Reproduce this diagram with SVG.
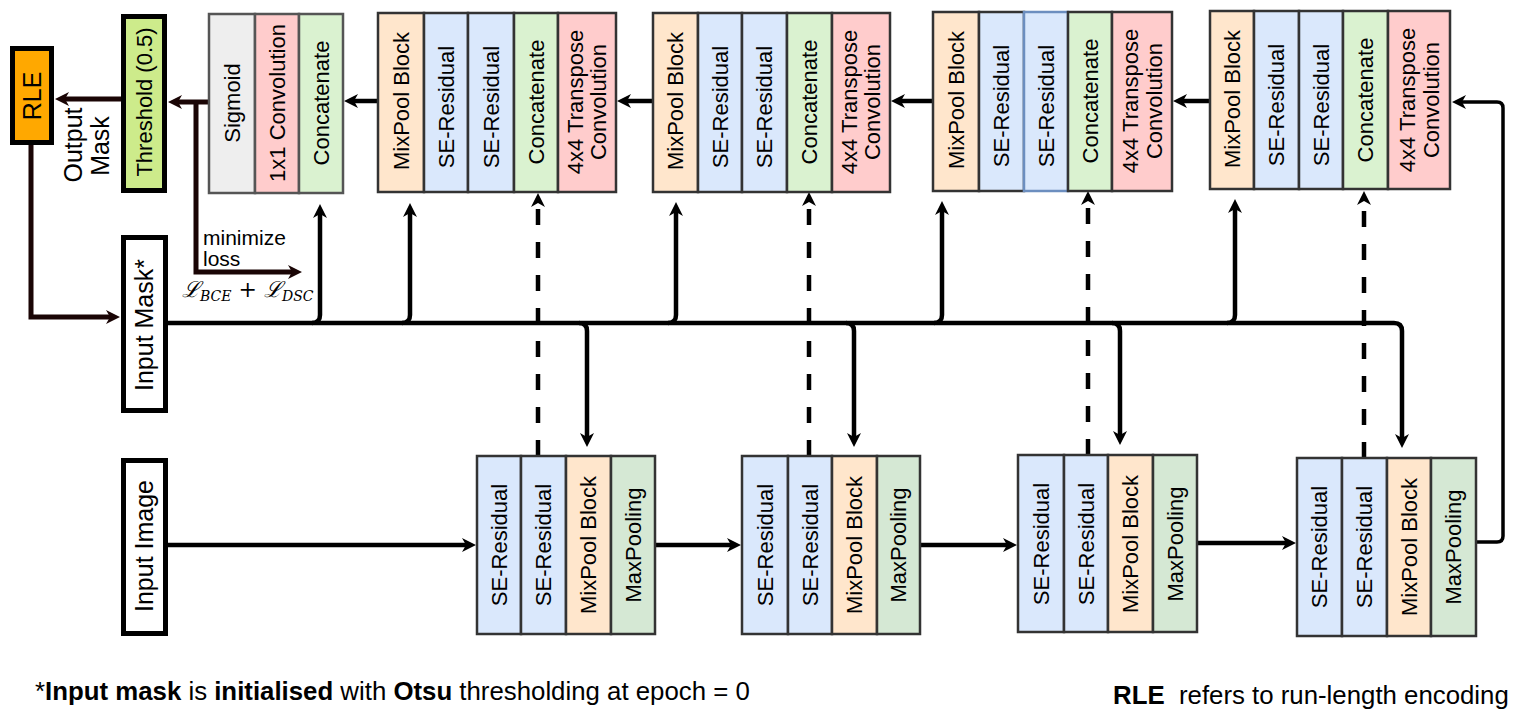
<svg xmlns="http://www.w3.org/2000/svg" width="1531" height="720" viewBox="0 0 1531 720">
<style>
.t{font-family:"Liberation Sans",Arial,sans-serif;font-size:22px;fill:#000;text-anchor:middle;dominant-baseline:central}
.tb{font-size:25px}
.c{stroke:#333;stroke-width:2.5}
.thick{stroke:#000;stroke-width:5}
.mix{fill:#FFE6CC}.se{fill:#DAE8FC}.cat{fill:#DAF2D0}.tr{fill:#FFCCCC}.mp{fill:#D5E8D4}.sg{fill:#EEEEEE}
.ln{fill:none;stroke:#000;stroke-width:4.5}
.br{fill:none;stroke:#1a0505;stroke-width:5}
.ds{fill:none;stroke:#000;stroke-width:4.5;stroke-dasharray:16 17}
.ft{font-family:"Liberation Sans",Arial,sans-serif;font-size:25.8px;fill:#000}
</style>
<defs>
<marker id="ah" viewBox="0 0 14 14" markerWidth="14" markerHeight="14" refX="4" refY="7" orient="auto" markerUnits="userSpaceOnUse"><path d="M0,0 L14,7 L0,14 L4,7 Z" fill="#000"/></marker>
<marker id="ahb" viewBox="0 0 14 14" markerWidth="14" markerHeight="14" refX="4" refY="7" orient="auto" markerUnits="userSpaceOnUse"><path d="M0,0 L14,7 L0,14 L4,7 Z" fill="#1a0505"/></marker>
</defs>

<g id="connectors">
<path class="br" d="M121,99 L65,99" marker-end="url(#ahb)"/>
<path class="br" d="M209,102 L178,102" marker-end="url(#ahb)"/>
<path class="br" d="M196,102 L196,272 L292,272" marker-end="url(#ahb)"/>
<path class="br" d="M31,145 L31,317 L110,317" marker-end="url(#ahb)"/>
<path class="ln" d="M167,323 L1394,323 Q1402,323 1402,331 L1402,438" marker-end="url(#ah)"/>
<path class="ln" d="M312,323 Q320,323 320,315 L320,214" marker-end="url(#ah)"/>
<path class="ln" d="M402,323 Q410,323 410,315 L410,213" marker-end="url(#ah)"/>
<path class="ln" d="M668,323 Q676,323 676,315 L676,212" marker-end="url(#ah)"/>
<path class="ln" d="M934,323 Q942,323 942,315 L942,211" marker-end="url(#ah)"/>
<path class="ln" d="M1227,323 Q1235,323 1235,315 L1235,209" marker-end="url(#ah)"/>
<path class="ln" d="M579,323 Q587,323 587,331 L587,437" marker-end="url(#ah)"/>
<path class="ln" d="M846,323 Q854,323 854,331 L854,437" marker-end="url(#ah)"/>
<path class="ln" d="M1112,323 Q1120,323 1120,331 L1120,435" marker-end="url(#ah)"/>
<path class="ds" d="M538,456 L538,203" marker-end="url(#ah)"/>
<path class="ds" d="M809,456 L809,202" marker-end="url(#ah)"/>
<path class="ds" d="M1088,455 L1088,201" marker-end="url(#ah)"/>
<path class="ds" d="M1364,458 L1364,201" marker-end="url(#ah)"/>
<path class="ln" d="M378,101 L354,101" marker-end="url(#ah)"/>
<path class="ln" d="M653,101 L627,101" marker-end="url(#ah)"/>
<path class="ln" d="M933,101 L901,101" marker-end="url(#ah)"/>
<path class="ln" d="M1210,101 L1183,101" marker-end="url(#ah)"/>
<path class="ln" d="M168,545 L466,545" marker-end="url(#ah)"/>
<path class="ln" d="M655,545 L731,545" marker-end="url(#ah)"/>
<path class="ln" d="M920,545 L1007,545" marker-end="url(#ah)"/>
<path class="ln" d="M1197,543 L1286,543" marker-end="url(#ah)"/>
<path class="ln" style="stroke-width:3.5" d="M1476,542 L1497,542 Q1503,542 1503,536 L1503,108 Q1503,102 1497,102 L1462,102" marker-end="url(#ah)"/>
</g>

<g id="rle">
<rect x="12.5" y="48.5" width="39" height="94" fill="#FFA800" class="thick"/>
<text class="t" style="font-size:25px" transform="translate(32,96) rotate(-90)">RLE</text>
</g>
<g id="output-mask-label">
<text class="t tb" transform="translate(73,145) rotate(-90)">Output</text>
<text class="t tb" transform="translate(100,146) rotate(-90)">Mask</text>
</g>
<g id="threshold">
<rect x="123.5" y="16.5" width="41" height="174" fill="#CDEB8B" class="thick"/>
<text class="t" transform="translate(144,102) rotate(-90)">Threshold (0.5)</text>
</g>
<g id="output-head">
<rect x="209" y="14" width="46" height="179" class="c sg" style="stroke:#555"/>
<rect x="255" y="14" width="44" height="179" class="c tr" style="stroke:#555"/>
<rect x="299" y="14" width="44" height="179" class="c cat" style="stroke:#555"/>
<text class="t" transform="translate(232,103) rotate(-90)">Sigmoid</text>
<text class="t" transform="translate(277,103) rotate(-90)">1x1 Convolution</text>
<text class="t" transform="translate(321,103) rotate(-90)">Concatenate</text>
</g>
<g id="loss-label">
<text class="ft" style="font-size:21px" x="203" y="245">minimize</text>
<text class="ft" style="font-size:21px" x="203" y="266">loss</text>
<text x="182" y="297" style="font-family:'DejaVu Serif',serif;font-size:22px;font-style:italic">ℒ<tspan style="font-size:14px" dy="4">BCE</tspan><tspan dy="-4" style="font-style:normal"> + </tspan>ℒ<tspan style="font-size:14px" dy="4">DSC</tspan></text>
</g>

<g id="decoder1">
<rect x="378" y="13" width="46" height="179" class="c mix"/>
<rect x="424" y="13" width="44" height="179" class="c se"/>
<rect x="468" y="13" width="46" height="179" class="c se"/>
<rect x="514" y="13" width="44" height="179" class="c cat"/>
<rect x="558" y="13" width="58" height="179" class="c tr"/>
<text class="t" transform="translate(401,101) rotate(-90)">MixPool Block</text>
<text class="t" transform="translate(446,107) rotate(-90)">SE-Residual</text>
<text class="t" transform="translate(491,107) rotate(-90)">SE-Residual</text>
<text class="t" transform="translate(536,102) rotate(-90)">Concatenate</text>
<text class="t" transform="translate(575,102) rotate(-90)">4x4 Transpose</text>
<text class="t" transform="translate(598,102) rotate(-90)">Convolution</text>
</g>
<g id="decoder2">
<rect x="653" y="13" width="45" height="179" class="c mix"/>
<rect x="698" y="13" width="44" height="179" class="c se"/>
<rect x="742" y="13" width="45" height="179" class="c se"/>
<rect x="787" y="13" width="45" height="179" class="c cat"/>
<rect x="832" y="13" width="58" height="179" class="c tr"/>
<text class="t" transform="translate(675,101) rotate(-90)">MixPool Block</text>
<text class="t" transform="translate(720,107) rotate(-90)">SE-Residual</text>
<text class="t" transform="translate(764,107) rotate(-90)">SE-Residual</text>
<text class="t" transform="translate(809,102) rotate(-90)">Concatenate</text>
<text class="t" transform="translate(849,102) rotate(-90)">4x4 Transpose</text>
<text class="t" transform="translate(872,102) rotate(-90)">Convolution</text>
</g>
<g id="decoder3">
<rect x="933" y="12" width="46" height="179" class="c mix"/>
<rect x="979" y="12" width="45" height="179" class="c se"/>
<rect x="1024" y="12" width="44" height="179" class="c se" style="stroke:#6C8EBF"/>
<rect x="1068" y="12" width="44" height="179" class="c cat"/>
<rect x="1112" y="12" width="60" height="179" class="c tr"/>
<text class="t" transform="translate(956,100) rotate(-90)">MixPool Block</text>
<text class="t" transform="translate(1001,106) rotate(-90)">SE-Residual</text>
<text class="t" transform="translate(1046,106) rotate(-90)">SE-Residual</text>
<text class="t" transform="translate(1090,101) rotate(-90)">Concatenate</text>
<text class="t" transform="translate(1130,101) rotate(-90)">4x4 Transpose</text>
<text class="t" transform="translate(1154,101) rotate(-90)">Convolution</text>
</g>
<g id="decoder4">
<rect x="1210" y="11" width="44" height="178" class="c mix"/>
<rect x="1254" y="11" width="45" height="178" class="c se"/>
<rect x="1299" y="11" width="44" height="178" class="c se"/>
<rect x="1343" y="11" width="45" height="178" class="c cat"/>
<rect x="1388" y="11" width="62" height="178" class="c tr"/>
<text class="t" transform="translate(1232,99) rotate(-90)">MixPool Block</text>
<text class="t" transform="translate(1276,105) rotate(-90)">SE-Residual</text>
<text class="t" transform="translate(1321,105) rotate(-90)">SE-Residual</text>
<text class="t" transform="translate(1365,100) rotate(-90)">Concatenate</text>
<text class="t" transform="translate(1407,100) rotate(-90)">4x4 Transpose</text>
<text class="t" transform="translate(1431,100) rotate(-90)">Convolution</text>
</g>

<g id="input-mask">
<rect x="123.5" y="237.5" width="42" height="173" fill="#fff" class="thick"/>
<text class="t tb" transform="translate(144,325) rotate(-90)">Input Mask*</text>
</g>
<g id="input-image">
<rect x="123.5" y="460.5" width="42" height="173" fill="#fff" class="thick"/>
<text class="t tb" transform="translate(144,546) rotate(-90)">Input Image</text>
</g>

<g id="encoder1">
<rect x="477" y="456" width="44" height="178" class="c se"/>
<rect x="521" y="456" width="45" height="178" class="c se"/>
<rect x="566" y="456" width="45" height="178" class="c mix"/>
<rect x="611" y="456" width="44" height="178" class="c mp"/>
<text class="t" transform="translate(499,545) rotate(-90)">SE-Residual</text>
<text class="t" transform="translate(543,545) rotate(-90)">SE-Residual</text>
<text class="t" transform="translate(588,545) rotate(-90)">MixPool Block</text>
<text class="t" transform="translate(633,545) rotate(-90)">MaxPooling</text>
</g>
<g id="encoder2">
<rect x="742" y="456" width="46" height="178" class="c se"/>
<rect x="788" y="456" width="44" height="178" class="c se"/>
<rect x="832" y="456" width="45" height="178" class="c mix"/>
<rect x="877" y="456" width="43" height="178" class="c mp"/>
<text class="t" transform="translate(765,545) rotate(-90)">SE-Residual</text>
<text class="t" transform="translate(810,545) rotate(-90)">SE-Residual</text>
<text class="t" transform="translate(854,545) rotate(-90)">MixPool Block</text>
<text class="t" transform="translate(898,545) rotate(-90)">MaxPooling</text>
</g>
<g id="encoder3">
<rect x="1018" y="455" width="46" height="177" class="c se"/>
<rect x="1064" y="455" width="44" height="177" class="c se"/>
<rect x="1108" y="455" width="45" height="177" class="c mix"/>
<rect x="1153" y="455" width="44" height="177" class="c mp"/>
<text class="t" transform="translate(1041,544) rotate(-90)">SE-Residual</text>
<text class="t" transform="translate(1086,544) rotate(-90)">SE-Residual</text>
<text class="t" transform="translate(1130,544) rotate(-90)">MixPool Block</text>
<text class="t" transform="translate(1175,544) rotate(-90)">MaxPooling</text>
</g>
<g id="encoder4">
<rect x="1297" y="458" width="45" height="178" class="c se"/>
<rect x="1342" y="458" width="45" height="178" class="c se"/>
<rect x="1387" y="458" width="44" height="178" class="c mix"/>
<rect x="1431" y="458" width="45" height="178" class="c mp"/>
<text class="t" transform="translate(1319,547) rotate(-90)">SE-Residual</text>
<text class="t" transform="translate(1364,547) rotate(-90)">SE-Residual</text>
<text class="t" transform="translate(1409,547) rotate(-90)">MixPool Block</text>
<text class="t" transform="translate(1453,547) rotate(-90)">MaxPooling</text>
</g>

<g id="footnotes">
<text class="ft" x="35" y="700">*<tspan font-weight="bold">Input mask</tspan> is <tspan font-weight="bold">initialised</tspan> with <tspan font-weight="bold">Otsu</tspan> thresholding at epoch = 0</text>
<text class="ft" x="1113" y="704" xml:space="preserve"><tspan font-weight="bold">RLE</tspan>  refers to run-length encoding</text>
</g>
</svg>
